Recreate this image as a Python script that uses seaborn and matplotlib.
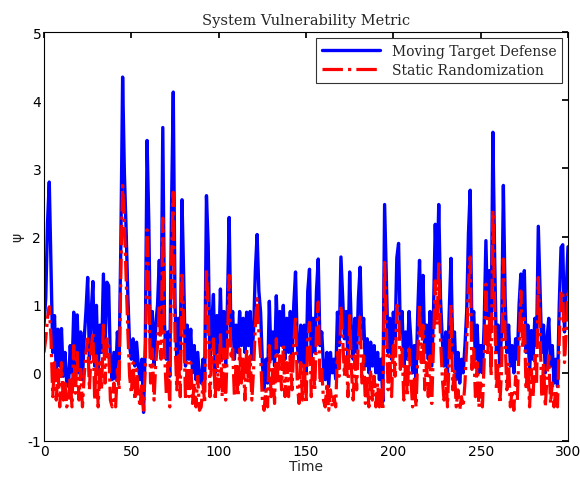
import numpy as np
import pandas as pd
import matplotlib
matplotlib.use("Agg")
import matplotlib.pyplot as plt
import seaborn as sns

# values, one per time step (t = 0..300)
mtd = [
    0.7, 1.1, 2.2, 2.8, 1.55, 0.3, 0.84, 0.0, 0.64, 0.1,
    0.65, -0.05, 0.3, -0.15, -0.2, 0.4, 0.0, 0.89, 0.1, 0.85,
    0.0, 0.6, -0.1, 0.5, 0.9, 1.4, 0.2, 0.89, 1.34, 0.1,
    0.99, 0.0, 0.7, 0.3, 1.45, 0.4, 1.33, 1.28, 0.16, -0.1,
    0.3, -0.09, 0.6, 0.2, 1.92, 4.34, 2.94, 2.1, 1.13, 0.4,
    0.2, 0.5, 0.1, 0.45, 0.1, -0.1, 0.2, -0.58, 0.45, 3.41,
    2.2, 0.3, 0.9, 0.1, 0.7, 1.0, 1.65, 0.6, 3.6, 0.7,
    0.2, 0.6, -0.05, 2.42, 4.12, 1.0, 0.2, 0.8, 0.3, 2.54,
    1.36, 0.1, 0.7, 0.2, 0.64, 0.0, 0.4, -0.1, 0.3, -0.1,
    -0.15, 0.2, -0.1, 2.6, 1.87, 0.2, 0.7, 1.15, 0.0, 0.84,
    0.3, 1.23, 0.2, 0.9, 0.1, 1.0, 2.28, 0.6, 0.9, 0.2,
    0.7, 0.3, 0.9, 0.4, 0.8, 0.3, 0.89, 0.4, 0.9, 0.2,
    0.64, 1.5, 2.03, 1.2, 0.89, 0.16, -0.25, 0.2, -0.15, 1.05,
    0.2, 0.6, 0.1, 1.13, 0.3, 0.9, 0.4, 0.99, 0.2, 0.8,
    0.3, 0.9, 0.2, 1.0, 1.48, 0.4, 0.16, 0.7, 0.1, 0.7,
    0.0, 1.2, 1.52, 0.2, 0.8, 0.3, 1.2, 1.67, 0.4, 0.6,
    0.1, -0.1, 0.3, -0.2, 0.3, 0.0, 0.2, -0.09, 0.89, 0.4,
    1.7, 1.1, 0.5, 0.9, 0.2, 1.48, 0.6, 0.2, 0.8, 0.3,
    1.1, 1.55, 0.5, 0.8, 0.1, 0.5, 0.0, 0.45, 0.1, 0.4,
    0.0, 0.3, -0.1, 0.2, -0.42, 2.47, 1.36, 0.3, 0.8, 0.2,
    0.89, 0.5, 1.69, 1.9, 0.6, 0.9, 0.1, 0.6, 0.2, 0.9,
    0.5, 0.0, 0.4, -0.1, 0.9, 1.65, 0.6, 1.43, 0.3, 0.7,
    0.2, 0.9, 0.1, 0.9, 2.18, 1.32, 2.47, 1.1, 0.5, 0.1,
    0.6, 0.0, 0.9, 1.68, 0.3, 0.6, -0.1, 0.3, -0.15, 0.2,
    0.0, 0.4, 0.9, 2.04, 2.68, 0.6, 0.9, 0.2, 0.7, 0.0,
    0.4, 0.0, 0.7, 1.94, 0.8, 1.5, 0.6, 3.53, 1.7, 0.3,
    0.7, 0.1, 0.62, 2.75, 1.1, 0.3, 0.7, 0.1, 0.4, 0.0,
    0.5, 0.2, 1.0, 1.45, 0.8, 1.5, 0.3, 0.7, 0.0, 0.62,
    0.2, 0.8, 0.4, 2.15, 1.2, 0.3, 0.7, 0.0, 0.5, 0.8,
    0.1, 0.4, -0.15, 0.2, -0.2, 1.0, 1.84, 1.88, 0.6, 1.2,
    1.85,
]
static = [
    0.3, 0.5, 0.8, 0.97, 0.5, -0.35, 0.15, -0.4, 0.05, -0.5,
    0.15, -0.4, -0.15, -0.5, -0.4, -0.05, -0.5, 0.4, -0.3, 0.3,
    -0.4, 0.05, -0.5, -0.05, 0.3, 0.5, -0.25, 0.35, 0.6, -0.4,
    0.25, -0.5, 0.15, -0.25, 0.7, -0.15, 0.5, 0.4, -0.4, -0.5,
    -0.15, -0.5, 0.05, -0.25, 1.5, 2.75, 2.2, 1.4, 0.6, -0.05,
    -0.3, 0.15, -0.4, 0.05, -0.3, -0.5, -0.15, -0.55, 0.1, 2.1,
    1.3, -0.15, 0.35, -0.4, 0.15, 0.4, 1.0, 0.2, 2.27, 0.3,
    -0.3, 0.15, -0.5, 1.6, 2.65, 0.5, -0.25, 0.25, -0.35, 1.48,
    0.7, -0.4, 0.15, -0.35, 0.15, -0.45, -0.15, -0.5, -0.05, -0.55,
    -0.5, -0.15, -0.45, 1.52, 1.0, -0.35, 0.25, 0.5, -0.4, 0.25,
    -0.25, 0.6, -0.35, 0.35, -0.4, 0.4, 1.43, 0.2, 0.35, -0.35,
    0.15, -0.35, 0.35, -0.15, 0.25, -0.4, 0.35, -0.15, 0.25, -0.4,
    0.05, 0.7, 1.09, 0.6, 0.25, -0.4, -0.55, -0.25, -0.5, 0.4,
    -0.35, 0.05, -0.45, 0.5, -0.15, 0.25, -0.25, 0.4, -0.35, 0.15,
    -0.35, 0.25, -0.25, 0.4, 0.84, -0.15, -0.45, 0.15, -0.4, 0.15,
    -0.45, 0.5, 0.74, -0.35, 0.25, -0.25, 0.6, 1.04, -0.15, 0.05,
    -0.4, -0.5, -0.15, -0.55, -0.25, -0.5, -0.35, -0.5, 0.3, -0.05,
    0.99, 0.5, -0.05, 0.35, -0.35, 0.84, 0.05, -0.4, 0.25, -0.25,
    0.5, 0.84, -0.15, 0.25, -0.45, -0.05, -0.5, 0.05, -0.4, -0.05,
    -0.5, -0.15, -0.5, -0.25, -0.55, 1.62, 0.7, -0.25, 0.25, -0.35,
    0.4, -0.05, 0.99, 0.95, 0.05, 0.35, -0.4, 0.15, -0.35, 0.35,
    -0.05, -0.5, -0.05, -0.5, 0.25, 1.0, 0.15, 0.7, -0.25, 0.15,
    -0.35, 0.25, -0.45, 0.4, 1.35, 0.7, 1.6, 0.5, -0.05, -0.4,
    0.05, -0.5, 0.25, 1.0, -0.25, 0.05, -0.5, -0.25, -0.55, -0.35,
    -0.5, -0.15, 0.4, 1.3, 1.7, 0.05, 0.35, -0.35, 0.15, -0.5,
    -0.15, -0.5, 0.15, 1.3, 0.25, 0.8, -0.05, 2.38, 1.0, -0.25,
    0.15, -0.45, 0.05, 1.67, 0.5, -0.25, 0.15, -0.5, -0.25, -0.55,
    -0.05, -0.4, 0.4, 1.2, 0.35, 0.8, -0.25, 0.15, -0.5, 0.05,
    -0.35, 0.25, -0.15, 1.4, 0.6, -0.35, 0.15, -0.5, -0.05, 0.25,
    -0.45, -0.15, -0.5, -0.25, -0.5, 0.5, 1.2, 1.2, 0.15, 0.6,
    1.2,
]
time = np.arange(len(mtd))

sns.set_theme(style="white")
plt.rcParams['font.family'] = ['DejaVu Sans']
plt.rcParams['axes.unicode_minus'] = False

fig = plt.figure(figsize=(5.8, 4.85), dpi=100)
ax = fig.add_axes([0.0759, 0.0887, 0.9034, 0.843])

sns.lineplot(x=time, y=mtd, ax=ax, color='#0000ff', lw=2.4,
             label='Moving Target Defense')
sns.lineplot(x=time, y=static, ax=ax, color='#ff0000', lw=2.3,
             linestyle='-.', label='Static Randomization')

ax.set_xlim(0, 300)
ax.set_ylim(-1, 5)
ax.set_xticks(range(0, 301, 50))
ax.set_yticks(range(-1, 6))
ax.tick_params(direction='in', top=True, right=True, length=4,
               labelsize=10, colors='black', pad=2)
for s in ax.spines.values():
    s.set_color('black')
    s.set_linewidth(0.8)

ax.set_title('System Vulnerability Metric', family='DejaVu Serif',
             fontsize=10.5, pad=6)
ax.set_xlabel('Time', fontsize=10, labelpad=1)
ax.set_ylabel('ψ', fontsize=10, labelpad=2)

leg = ax.legend(loc='upper right', prop={'family': 'DejaVu Serif', 'size': 10},
                frameon=True, fancybox=False, edgecolor='black',
                handlelength=4.2, borderaxespad=0.4, labelspacing=0.35,
                borderpad=0.45)
leg.get_frame().set_linewidth(0.8)

fig.savefig('out.png', dpi=100, facecolor='white')
